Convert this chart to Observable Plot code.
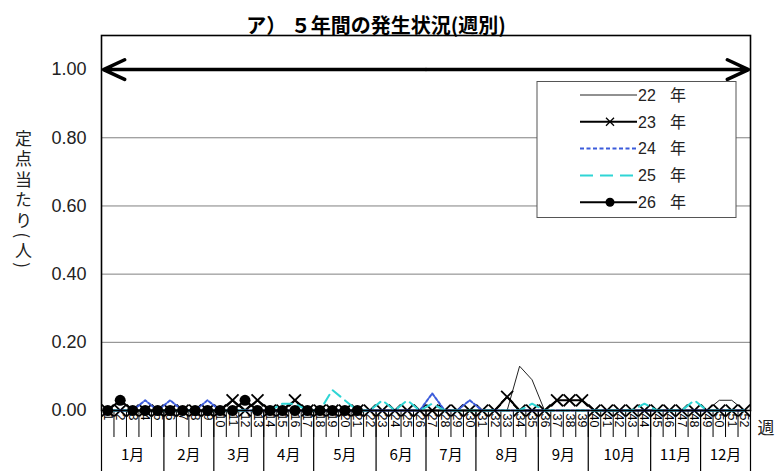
<!DOCTYPE html>
<html><head><meta charset="utf-8">
<script src="https://cdn.jsdelivr.net/npm/d3@7"></script>
<script src="https://cdn.jsdelivr.net/npm/@observablehq/plot@0.6"></script>
<style>
body{margin:0;background:#fff;}
#wrap{position:relative;width:778px;height:471px;overflow:hidden;background:#fff;}
#ylab{position:absolute;left:15px;top:130px;writing-mode:vertical-rl;text-orientation:mixed;font-family:"Noto Sans CJK JP",sans-serif;font-size:17px;letter-spacing:3.5px;color:#222;line-height:1;}
</style></head><body><div id="wrap"><div id="ylab">定点当たり(人)</div></div>
<script>
// ---- data ----
const weeks = [1,2,3,4,5,6,7,8,9,10,11,12,13,14,15,16,17,18,19,20,21,22,23,24,25,26,
  27,28,29,30,31,32,33,34,35,36,37,38,39,40,41,42,43,44,45,46,47,48,49,50,51,52];
const monthNames = ["1月","2月","3月","4月","5月","6月","7月","8月","9月","10月","11月","12月"];
const monthWeeks = [5,4,4,4,5,4,4,5,4,5,4,4];
const yTicks = [0, 0.2, 0.4, 0.6, 0.8, 1.0];
const years = ["22","23","24","25","26"];
const v22 = [
  0,0,0,0,0,0,0,0,0,0,
  0,0,0,0,0,0,0,0,0,0,
  0,0,0,0,0,0,0,0,0,0,
  0,0,0,0.13,0.09,0,0,0,0,0,
  0,0,0,0,0,0,0,0,0,0.03,
  0.03,0];
const v23 = [
  0,0,0,0,0,0,0,0,0,0,
  0.03,0,0.03,0,0,0.03,0,0,0,0,
  0,0,0,0,0,0,0,0,0,0,
  0,0,0.04,0,0,0,0.03,0.03,0.03,0,
  0,0,0,0,0,0,0,0,0,0,
  0,0];
const v24 = [
  0,0,0,0.03,0,0.03,0,0,0.03,0,
  0,0,0,0,0,0,0,0,0,0,
  0,0,0,0,0,0,0.05,0,0,0.03,
  0,0,0,0,0,0,0,0,0,0,
  0,0,0,0,0,0,0,0,0,0,
  0,0];
const v25 = [
  0,0,0,0,0,0,0,0,0,0,
  0,0,0,0,0.02,0.02,0,0,0.06,0.03,
  0,0,0.03,0,0.03,0,0.02,0,0,0,
  0,0,0,0,0.02,0,0,0,0,0,
  0,0,0,0.02,0,0,0,0.03,0,0,
  0,0];
const v26 = [
  0,0.03,0,0,0,0,0,0,0,0,
  0,0.03,0,0,0,0,0,0,0,0,
  0];
const arrowSpan = {from: 0.5, to: 52.5, level: 1.0};
const titleText = "ア） ５年間の発生状況(週別)";
const unitText = "週";

// ---- build ----
const seriesList = [v22, v23, v24, v25, v26];
const rows = [];
years.forEach((yr, i) => seriesList[i].forEach((v, j) => rows.push({year: yr, week: weeks[j], value: v})));
const byYear = yr => rows.filter(d => d.year === yr);

const weekEdges = weeks.map(w => w - 0.5).concat([weeks[weeks.length - 1] + 0.5]);
let acc = 0.5;
const monthBounds = [acc];
const monthCenters = [];
monthWeeks.forEach(n => { monthCenters.push(acc + n / 2); acc += n; monthBounds.push(acc); });

const styles = {
  "22": {stroke: "#222", strokeWidth: 1},
  "23": {stroke: "#000", strokeWidth: 2},
  "24": {stroke: "#3b5bdb", strokeWidth: 2, strokeDasharray: "3,2"},
  "25": {stroke: "#2fd5d5", strokeWidth: 2, strokeDasharray: "10,6"},
  "26": {stroke: "#000", strokeWidth: 2}
};
const legendDash = {"24": "4,2.5", "25": "13,7"};
const cjk = "'Noto Sans CJK JP', sans-serif";
const mid = (arrowSpan.from + arrowSpan.to) / 2;

const chart = Plot.plot({
  width: 778, height: 471,
  marginLeft: 101, marginRight: 28, marginTop: 35, marginBottom: 61,
  x: {domain: [0.5, 52.5], axis: null},
  y: {domain: [0, 1.1], axis: null},
  style: {fontFamily: "'Liberation Sans', Arial, sans-serif", background: "#fff", color: "#000"},
  marks: [
    Plot.gridY(yTicks.filter(t => t > 0), {stroke: "#808080", strokeOpacity: 1, strokeWidth: 1}),
    Plot.axisY({ticks: yTicks, tickSize: 0, tickPadding: 15, tickFormat: d3.format(".2f"), fontSize: 18, fill: "#222", label: null}),
    Plot.axisX({ticks: weekEdges, tickSize: 27, tickFormat: () => "", label: null, strokeWidth: 1}),
    Plot.text(weeks, {x: d => d, y: () => 0, text: d => String(d), rotate: 90, textAnchor: "start",
      lineAnchor: "middle", dy: 3, fontSize: 12.5, fill: "#000"}),
    Plot.axisX({ticks: monthBounds, tickSize: 61, tickFormat: () => "", label: null, strokeWidth: 1.2}),
    Plot.axisX({ticks: monthCenters, tickSize: 0, tickPadding: 39, fontSize: 15, fontFamily: cjk, label: null,
      tickFormat: d => monthNames[monthCenters.indexOf(d)]}),
    Plot.line(byYear("22"), {x: "week", y: "value", ...styles["22"]}),
    Plot.line(byYear("23"), {x: "week", y: "value", ...styles["23"]}),
    Plot.dot(byYear("23"), {x: "week", y: "value", symbol: "times", r: 5.5, stroke: "#000", strokeWidth: 1.8}),
    Plot.line(byYear("24"), {x: "week", y: "value", ...styles["24"]}),
    Plot.line(byYear("25"), {x: "week", y: "value", ...styles["25"]}),
    Plot.line(byYear("26"), {x: "week", y: "value", ...styles["26"]}),
    Plot.dot(byYear("26"), {x: "week", y: "value", r: 5.5, fill: "#000"}),
    Plot.frame({stroke: "#000", strokeWidth: 1.6}),
    Plot.arrow([arrowSpan], {x1: () => mid, x2: d => d.from, y1: d => d.level, y2: d => d.level,
      stroke: "#000", strokeWidth: 3.5, headLength: 10, headAngle: 50, insetEnd: 2}),
    Plot.arrow([arrowSpan], {x1: () => mid, x2: d => d.to, y1: d => d.level, y2: d => d.level,
      stroke: "#000", strokeWidth: 3.5, headLength: 10, headAngle: 50, insetEnd: 2}),
    Plot.text([titleText], {text: d => d, frameAnchor: "top", dx: -50, dy: -17, fontSize: 20, fontWeight: "bold", fontFamily: cjk, fill: "#000"}),
    Plot.text([unitText], {text: d => d, frameAnchor: "bottom-right", dx: 7, dy: 23, textAnchor: "start", fontSize: 17, fontFamily: cjk, fill: "#222"})
  ]
});
document.getElementById("wrap").appendChild(chart);

// ---- legend ----
const svg = d3.select(chart);
const lg = svg.append("g");
lg.append("rect").attr("x", 537).attr("y", 81.5).attr("width", 199).attr("height", 136)
  .attr("fill", "#fff").attr("stroke", "#555").attr("stroke-width", 1);
years.forEach((yr, i) => {
  const cy = 95 + i * 26.8;
  const st = styles[yr];
  lg.append("line").attr("x1", 580).attr("x2", 637).attr("y1", cy).attr("y2", cy)
    .attr("stroke", st.stroke).attr("stroke-width", st.strokeWidth)
    .attr("stroke-dasharray", legendDash[yr] || null);
  if (yr === "23") {
    lg.append("path").attr("d", `M606,${cy-4}L614,${cy+4}M606,${cy+4}L614,${cy-4}`).attr("stroke", "#000").attr("stroke-width", 1.3);
  }
  if (yr === "26") {
    lg.append("circle").attr("cx", 610).attr("cy", cy).attr("r", 4.5).attr("fill", "#000");
  }
  lg.append("text").attr("x", 647).attr("y", cy).attr("dy", "0.36em").attr("font-size", 16)
    .attr("font-family", "'Liberation Sans', Arial, sans-serif").attr("fill", "#222").text(yr);
  lg.append("text").attr("x", 678).attr("y", cy).attr("dy", "0.36em").attr("font-size", 16)
    .attr("font-family", cjk).attr("fill", "#222").text("年");
});
</script></body></html>
